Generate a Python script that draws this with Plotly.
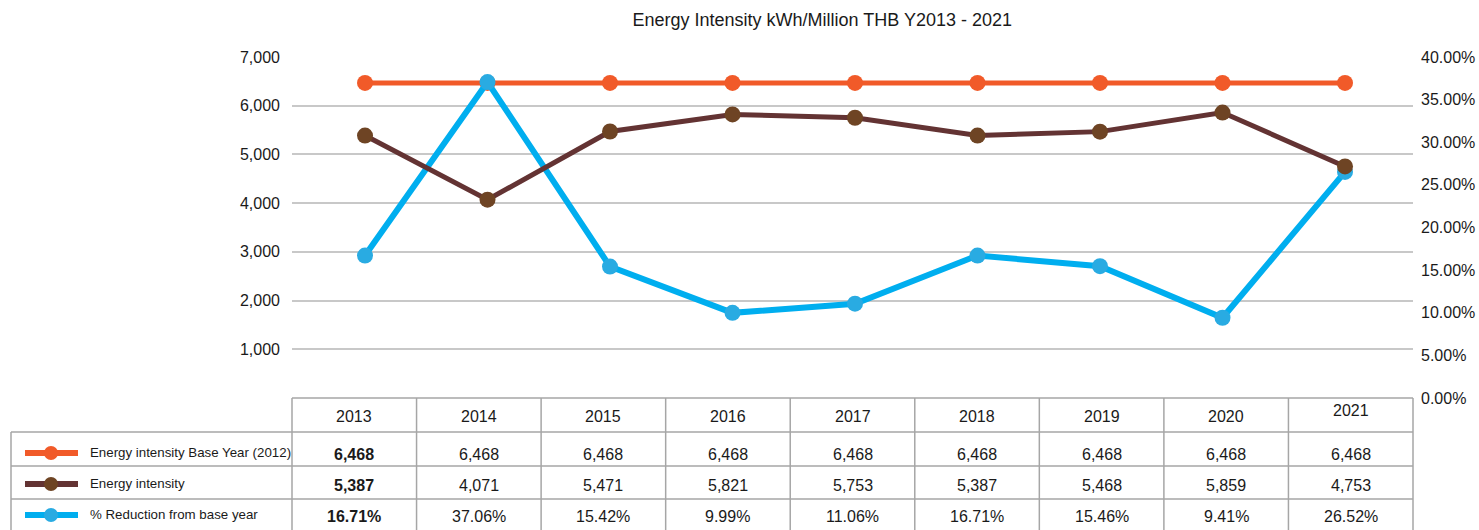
import plotly.graph_objects as go

# ---------------- data ----------------
years = ["2013", "2014", "2015", "2016", "2017", "2018", "2019", "2020", "2021"]
base_year = [6468, 6468, 6468, 6468, 6468, 6468, 6468, 6468, 6468]
energy_intensity = [5387, 4071, 5471, 5821, 5753, 5387, 5468, 5859, 4753]
pct_reduction = [16.71, 37.06, 15.42, 9.99, 11.06, 16.71, 15.46, 9.41, 26.52]
series_names = ["Energy intensity Base Year (2012)", "Energy intensity", "% Reduction from base year"]
left_ticks = [1000, 2000, 3000, 4000, 5000, 6000, 7000]
right_ticks = [0, 5, 10, 15, 20, 25, 30, 35, 40]
right_tick_labels = ["0.00%", "5.00%", "10.00%", "15.00%", "20.00%", "25.00%", "30.00%", "35.00%", "40.00%"]
title_text = "Energy Intensity kWh/Million THB Y2013 - 2021"

# ---------------- style ----------------
W, H = 1479, 530
PL, PR, PT, PB = 292, 1413, 57, 398   # plot area in pixels
ORANGE = "#F15A29"
BROWN_LINE = "#633333"
BROWN_MARK = "#6E4424"
BLUE_LINE = "#00AEEF"
BLUE_MARK = "#29ABE2"
GRID = "#C8C8C8"
BORDER = "#A6A6A6"
FONT = "Liberation Sans, Arial, sans-serif"
TXT = "#1a1a1a"


def px2x(px):
    return (px - PL) / (PR - PL)


def px2y(py):
    return (PB - py) / (PB - PT)


fig = go.Figure()
fig.add_trace(go.Scatter(x=years, y=base_year, name=series_names[0], mode="lines+markers",
                         line=dict(color=ORANGE, width=5), marker=dict(color=ORANGE, size=16),
                         yaxis="y"))
fig.add_trace(go.Scatter(x=years, y=pct_reduction, name=series_names[2], mode="lines+markers",
                         line=dict(color=BLUE_LINE, width=6), marker=dict(color=BLUE_MARK, size=16),
                         yaxis="y2"))
fig.add_trace(go.Scatter(x=years, y=energy_intensity, name=series_names[1], mode="lines+markers",
                         line=dict(color=BROWN_LINE, width=5), marker=dict(color=BROWN_MARK, size=16),
                         yaxis="y3"))

xr = [-0.596, 8.555]
fig.update_layout(
    width=W, height=H, autosize=False,
    margin=dict(l=PL, r=W - PR, t=PT, b=H - PB, pad=0, autoexpand=False),
    paper_bgcolor="white", plot_bgcolor="white",
    showlegend=False,
    font=dict(family=FONT, size=16, color=TXT),
    title=dict(text=title_text, x=0.473, xref="paper", xanchor="center",
               y=1 - 20 / H, yref="container", yanchor="middle",
               font=dict(family=FONT, size=18, color=TXT)),
    xaxis=dict(type="category", range=xr, showticklabels=False, showgrid=False,
               zeroline=False, showline=False, ticks="", automargin=False),
    yaxis=dict(range=[0, 7000], tickvals=left_ticks, tickformat=",d", showgrid=True,
               gridcolor=GRID, gridwidth=1.5, zeroline=False, showline=False, automargin=False,
               ticks="", ticklabelstandoff=11, tickfont=dict(size=16, color=TXT)),
    yaxis2=dict(range=[0, 40], tickvals=right_ticks, ticktext=right_tick_labels,
                overlaying="y", side="right", showgrid=False, zeroline=False, showline=False,
                automargin=False,
                ticks="", ticklabelstandoff=7, tickfont=dict(size=16, color=TXT)),
    yaxis3=dict(range=[0, 7000], overlaying="y", visible=False, automargin=False),
)

# ---------------- data table ----------------
shapes = []
annotations = []
col_w = (PR - PL) / len(years)
row_edges = [PB, 432, 466, 499, 540]
LEG_L = 11

shapes.append(dict(type="line", xref="paper", yref="paper", x0=px2x(PL), x1=px2x(PR),
                   y0=px2y(row_edges[0]), y1=px2y(row_edges[0]), line=dict(color=BORDER, width=1.5)))
for e in row_edges[1:4]:
    shapes.append(dict(type="line", xref="paper", yref="paper", x0=px2x(LEG_L), x1=px2x(PR),
                       y0=px2y(e), y1=px2y(e), line=dict(color=BORDER, width=1.5)))
for i in range(len(years) + 1):
    xpx = PL + i * col_w
    shapes.append(dict(type="line", xref="paper", yref="paper", x0=px2x(xpx), x1=px2x(xpx),
                       y0=px2y(row_edges[0]), y1=px2y(row_edges[-1]), line=dict(color=BORDER, width=1.5)))
shapes.append(dict(type="line", xref="paper", yref="paper", x0=px2x(LEG_L), x1=px2x(LEG_L),
                   y0=px2y(row_edges[1]), y1=px2y(row_edges[-1]), line=dict(color=BORDER, width=1.5)))

for i, yr in enumerate(years):
    cx = PL + (i + 0.5) * col_w
    ty = 410 if yr == "2021" else 416
    annotations.append(dict(text=yr, x=px2x(cx), y=px2y(ty), xref="paper", yref="paper",
                            showarrow=False, xanchor="center", yanchor="middle",
                            font=dict(size=16, color=TXT)))

row_vals = [
    [f"{v:,}" for v in base_year],
    [f"{v:,}" for v in energy_intensity],
    [f"{v:.2f}%" for v in pct_reduction],
]
row_text_y = [454, 485, 516]
row_cols = [(ORANGE, ORANGE), (BROWN_LINE, BROWN_MARK), (BLUE_LINE, BLUE_MARK)]
for r, vals in enumerate(row_vals):
    ty = row_text_y[r]
    for i, v in enumerate(vals):
        cx = PL + (i + 0.5) * col_w
        txt = f"<b>{v}</b>" if i == 0 else v
        annotations.append(dict(text=txt, x=px2x(cx), y=px2y(ty), xref="paper", yref="paper",
                                showarrow=False, xanchor="center", yanchor="middle",
                                font=dict(size=16, color=TXT)))
    lc, mc = row_cols[r]
    sy = ty - 1
    shapes.append(dict(type="line", xref="paper", yref="paper", x0=px2x(25), x1=px2x(78),
                       y0=px2y(sy), y1=px2y(sy), line=dict(color=lc, width=6)))
    shapes.append(dict(type="circle", xref="paper", yref="paper", x0=px2x(44), x1=px2x(58),
                       y0=px2y(sy + 7), y1=px2y(sy - 7), fillcolor=mc, line=dict(color=mc, width=0)))
    annotations.append(dict(text=series_names[r], x=px2x(88), y=px2y(ty - 2), xref="paper", yref="paper",
                            showarrow=False, xanchor="left", yanchor="middle",
                            font=dict(family=FONT, size=13.3, color=TXT)))

fig.update_layout(shapes=shapes, annotations=annotations)
fig.write_html("out.html", config={"displayModeBar": False, "responsive": False},
               post_script="document.body.style.margin='0';document.body.style.overflow='hidden';")
